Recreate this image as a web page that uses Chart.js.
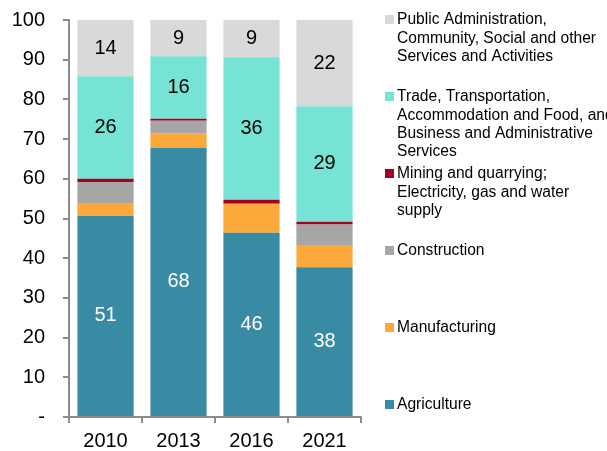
<!DOCTYPE html>
<html lang="en">
<head>
<meta charset="UTF-8">
<title>Employment by sector</title>
<script src="https://cdn.jsdelivr.net/npm/chart.js"></script>
<style>
    body { margin: 0; background: #fff; }
    #wrap { width: 607px; height: 451px; position: relative; }
</style>
</head>
<body>
<div id="wrap"><canvas id="chart"></canvas></div>
<script>
    // data
    const years = ['2010', '2013', '2016', '2021'];
    const agriculture = [50.7, 67.8, 46.4, 37.7];
    const manufacturing = [3.2, 3.7, 7.3, 5.6];
    const construction = [5.3, 3.1, 0.0, 5.2];
    const mining = [0.8, 0.5, 1.0, 0.7];
    const trade = [25.8, 15.8, 35.9, 29.1];
    const publicAdmin = [14.2, 9.1, 9.4, 21.7];
    const yTicks = [0, 10, 20, 30, 40, 50, 60, 70, 80, 90, 100];

    const series = [
        { name: 'Agriculture', data: agriculture, color: '#388ba3', label: '#ffffff',
          lines: ['Agriculture'] },
        { name: 'Manufacturing', data: manufacturing, color: '#fba93b', label: null,
          lines: ['Manufacturing'] },
        { name: 'Construction', data: construction, color: '#a6a6a6', label: null,
          lines: ['Construction'] },
        { name: 'Mining and quarrying; Electricity, gas and water supply', data: mining, color: '#a50021', label: null,
          lines: ['Mining and quarrying;', 'Electricity, gas and water', 'supply'] },
        { name: 'Trade, Transportation, Accommodation and Food, and Business and Administrative Services', data: trade, color: '#77e3d5', label: '#000000',
          lines: ['Trade, Transportation,', 'Accommodation and Food, and', 'Business and Administrative', 'Services'] },
        { name: 'Public Administration, Community, Social and other Services and Activities', data: publicAdmin, color: '#d9d9d9', label: '#000000',
          lines: ['Public Administration,', 'Community, Social and other', 'Services and Activities'] }
    ];

    const FONT = '"Liberation Sans", Arial, sans-serif';

    // numbers inside the big segments
    const segmentLabels = {
        id: 'segmentLabels',
        afterDatasetsDraw(chart) {
            const ctx = chart.ctx;
            ctx.save();
            ctx.font = '20px ' + FONT;
            ctx.textAlign = 'center';
            ctx.textBaseline = 'middle';
            series.forEach((s, di) => {
                if (!s.label) return;
                chart.getDatasetMeta(di).data.forEach((bar, i) => {
                    ctx.fillStyle = s.label;
                    ctx.fillText(Math.round(s.data[i]), bar.x, (bar.y + bar.base) / 2);
                });
            });
            ctx.restore();
        }
    };

    // legend on the right, one slot per series from the top down
    const sideLegend = {
        id: 'sideLegend',
        afterDraw(chart) {
            const ctx = chart.ctx;
            ctx.save();
            ctx.font = '15.6px ' + FONT;
            ctx.textBaseline = 'middle';
            const order = series.slice().reverse();
            order.forEach((s, k) => {
                const y0 = 20 + k * 77;
                ctx.fillStyle = s.color;
                ctx.fillRect(385, y0 - 5, 9, 9);
                ctx.fillStyle = '#000';
                s.lines.forEach((line, j) => {
                    ctx.fillText(line, 397, y0 + j * 18.3);
                });
            });
            ctx.restore();
        }
    };

    new Chart(document.getElementById('chart'), {
        type: 'bar',
        data: {
            labels: years,
            datasets: series.map(s => ({
                label: s.name,
                data: s.data,
                backgroundColor: s.color,
                borderWidth: 0,
                barPercentage: 0.77,
                categoryPercentage: 1
            }))
        },
        options: {
            responsive: true,
            maintainAspectRatio: false,
            animation: false,
            layout: { padding: { top: 20, right: 246, left: 0, bottom: 0 } },
            plugins: {
                legend: { display: false },
                tooltip: { enabled: false }
            },
            scales: {
                x: {
                    stacked: true,
                    afterFit(scale) { scale.height = 34; },
                    grid: { drawOnChartArea: false, drawTicks: true, tickLength: 6, color: '#8c8c8c', lineWidth: 2 },
                    border: { color: '#8c8c8c', width: 2 },
                    ticks: { color: '#000', font: { family: FONT, size: 20 }, padding: 6 }
                },
                y: {
                    stacked: true,
                    min: 0,
                    max: 100,
                    afterFit(scale) {
                        scale.width = 69;
                        scale.paddingTop = 0;
                        scale.paddingBottom = 0;
                    },
                    afterBuildTicks(scale) { scale.ticks = yTicks.map(v => ({ value: v })); },
                    grid: { drawOnChartArea: false, drawTicks: true, tickLength: 6, color: '#8c8c8c', lineWidth: 2 },
                    border: { color: '#8c8c8c', width: 2 },
                    ticks: {
                        color: '#000',
                        font: { family: FONT, size: 20 },
                        padding: 18,
                        callback: v => v === 0 ? '-' : v
                    }
                }
            }
        },
        plugins: [segmentLabels, sideLegend]
    });
</script>
</body>
</html>
